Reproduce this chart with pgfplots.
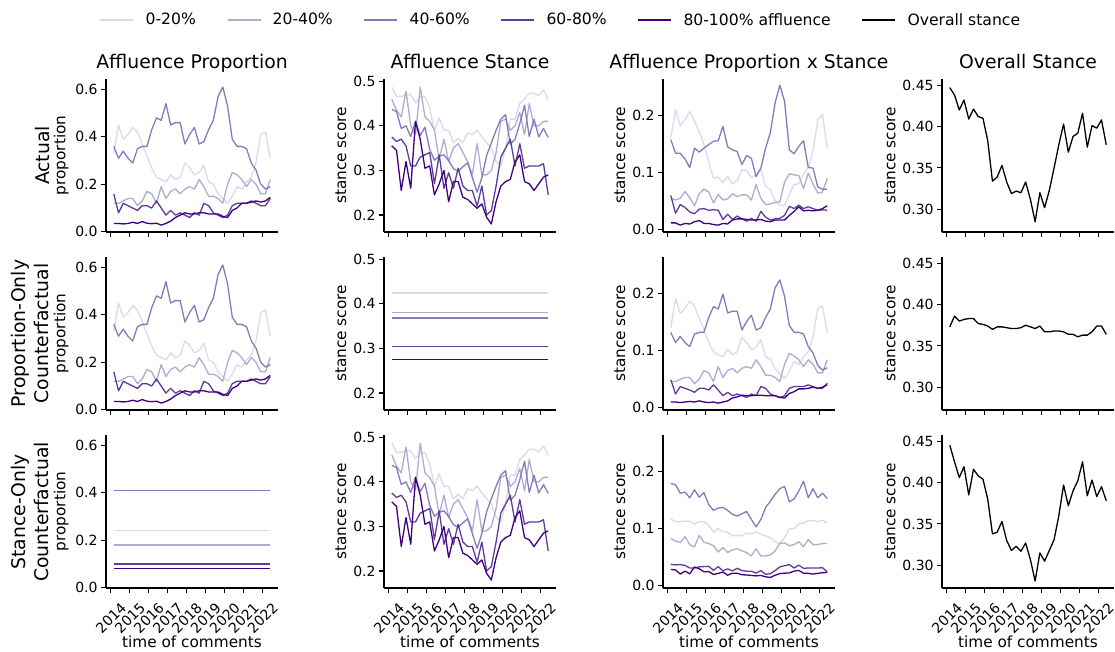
\documentclass[border=0pt]{standalone}
\usepackage{fontspec}
\setmainfont{DejaVu Sans}
\usepackage{pgfplots}
\usepackage{pgfplotstable}
\pgfplotsset{compat=1.18}

\definecolor{pa}{HTML}{DADAEB}
\definecolor{pb}{HTML}{ADACD2}
\definecolor{pc}{HTML}{807DBA}
\definecolor{pd}{HTML}{5F3C99}
\definecolor{pe}{HTML}{3F007D}

\newcommand\tickfont{\fontsize{14}{16}\selectfont}
\newcommand\labfont{\fontsize{15.3}{18}\selectfont}
\newcommand\bigfont{\fontsize{18.8}{22.6}\selectfont}

% proportion of comments per affluence quintile
\pgfplotstableread{
x p1 p2 p3 p4 p5
2014.15 0.33 0.12 0.36 0.16 0.035
2014.40 0.45 0.12 0.31 0.08 0.035
2014.65 0.39 0.13 0.34 0.12 0.033
2014.90 0.41 0.14 0.31 0.11 0.035
2015.15 0.44 0.14 0.29 0.10 0.040
2015.40 0.42 0.11 0.35 0.09 0.035
2015.65 0.37 0.13 0.36 0.11 0.043
2015.90 0.32 0.17 0.36 0.11 0.036
2016.15 0.27 0.16 0.43 0.10 0.034
2016.40 0.23 0.12 0.48 0.13 0.036
2016.65 0.22 0.19 0.47 0.10 0.028
2016.90 0.21 0.14 0.54 0.07 0.035
2017.15 0.24 0.17 0.45 0.09 0.045
2017.40 0.22 0.18 0.46 0.07 0.060
2017.65 0.23 0.16 0.46 0.08 0.070
2017.90 0.29 0.18 0.37 0.07 0.080
2018.15 0.27 0.19 0.41 0.06 0.075
2018.40 0.24 0.18 0.44 0.08 0.075
2018.65 0.25 0.22 0.37 0.07 0.080
2018.90 0.28 0.19 0.38 0.12 0.080
2019.15 0.21 0.15 0.43 0.11 0.075
2019.40 0.20 0.15 0.47 0.08 0.075
2019.65 0.16 0.14 0.57 0.07 0.075
2019.90 0.14 0.12 0.61 0.06 0.065
2020.15 0.12 0.20 0.53 0.07 0.060
2020.40 0.15 0.25 0.39 0.11 0.090
2020.65 0.19 0.24 0.36 0.12 0.100
2020.90 0.18 0.22 0.36 0.12 0.120
2021.15 0.21 0.19 0.35 0.12 0.120
2021.40 0.23 0.22 0.29 0.13 0.125
2021.65 0.29 0.20 0.26 0.12 0.130
2021.90 0.41 0.16 0.20 0.11 0.125
2022.15 0.42 0.16 0.18 0.11 0.130
2022.40 0.31 0.22 0.19 0.14 0.145
}\tprop

% stance per quintile
\pgfplotstableread{
x s1 s2 s3 s4 s5
2014.15 0.487 0.460 0.437 0.375 0.355
2014.40 0.466 0.435 0.432 0.365 0.345
2014.65 0.466 0.420 0.394 0.370 0.255
2014.90 0.470 0.478 0.400 0.355 0.320
2015.15 0.470 0.400 0.376 0.310 0.260
2015.40 0.452 0.380 0.410 0.310 0.410
2015.65 0.465 0.487 0.378 0.330 0.370
2015.90 0.466 0.420 0.397 0.335 0.305
2016.15 0.440 0.410 0.347 0.340 0.310
2016.40 0.390 0.390 0.323 0.270 0.245
2016.65 0.418 0.325 0.332 0.335 0.270
2016.90 0.390 0.370 0.335 0.260 0.300
2017.15 0.390 0.320 0.322 0.295 0.230
2017.40 0.362 0.350 0.304 0.260 0.275
2017.65 0.372 0.360 0.298 0.305 0.275
2017.90 0.362 0.340 0.308 0.265 0.240
2018.15 0.385 0.320 0.317 0.255 0.235
2018.40 0.380 0.290 0.284 0.255 0.225
2018.65 0.390 0.360 0.251 0.220 0.215
2018.90 0.375 0.290 0.284 0.265 0.225
2019.15 0.362 0.290 0.333 0.200 0.195
2019.40 0.350 0.300 0.362 0.210 0.180
2019.65 0.320 0.340 0.390 0.265 0.230
2019.90 0.310 0.410 0.415 0.330 0.265
2020.15 0.350 0.415 0.425 0.350 0.275
2020.40 0.415 0.390 0.359 0.370 0.280
2020.65 0.415 0.400 0.370 0.310 0.320
2020.90 0.450 0.430 0.405 0.360 0.335
2021.15 0.460 0.380 0.446 0.305 0.275
2021.40 0.473 0.450 0.376 0.310 0.270
2021.65 0.473 0.400 0.415 0.310 0.255
2021.90 0.468 0.400 0.375 0.310 0.270
2022.15 0.480 0.410 0.394 0.315 0.285
2022.40 0.460 0.410 0.374 0.245 0.290
}\tstance

% proportion x stance, actual
\pgfplotstableread{
x q1 q2 q3 q4 q5
2014.15 0.161 0.055 0.158 0.060 0.012
2014.40 0.210 0.052 0.134 0.029 0.012
2014.65 0.182 0.055 0.134 0.044 0.008
2014.90 0.193 0.067 0.124 0.039 0.011
2015.15 0.207 0.056 0.109 0.031 0.010
2015.40 0.190 0.042 0.143 0.028 0.014
2015.65 0.172 0.063 0.136 0.036 0.016
2015.90 0.149 0.071 0.143 0.037 0.011
2016.15 0.119 0.066 0.149 0.034 0.011
2016.40 0.090 0.047 0.155 0.035 0.009
2016.65 0.092 0.062 0.156 0.034 0.008
2016.90 0.082 0.052 0.181 0.018 0.011
2017.15 0.094 0.054 0.145 0.027 0.010
2017.40 0.080 0.063 0.140 0.018 0.017
2017.65 0.086 0.058 0.137 0.024 0.019
2017.90 0.105 0.061 0.114 0.019 0.019
2018.15 0.104 0.061 0.130 0.015 0.018
2018.40 0.091 0.052 0.125 0.020 0.017
2018.65 0.098 0.079 0.093 0.015 0.017
2018.90 0.105 0.055 0.108 0.032 0.018
2019.15 0.076 0.044 0.143 0.022 0.015
2019.40 0.070 0.045 0.170 0.017 0.014
2019.65 0.051 0.048 0.222 0.019 0.017
2019.90 0.043 0.049 0.253 0.020 0.017
2020.15 0.042 0.083 0.225 0.025 0.017
2020.40 0.062 0.098 0.140 0.041 0.025
2020.65 0.079 0.096 0.133 0.037 0.032
2020.90 0.081 0.095 0.146 0.043 0.040
2021.15 0.097 0.072 0.156 0.037 0.033
2021.40 0.109 0.099 0.109 0.040 0.034
2021.65 0.137 0.080 0.108 0.037 0.033
2021.90 0.192 0.064 0.075 0.034 0.034
2022.15 0.202 0.066 0.071 0.035 0.037
2022.40 0.143 0.090 0.071 0.034 0.042
}\tqa

% proportion x stance, proportion-only counterfactual
\pgfplotstableread{
x r1 r2 r3 r4 r5
2014.15 0.140 0.046 0.132 0.049 0.010
2014.40 0.191 0.046 0.114 0.024 0.010
2014.65 0.165 0.050 0.125 0.037 0.009
2014.90 0.174 0.053 0.114 0.034 0.010
2015.15 0.187 0.053 0.107 0.031 0.011
2015.40 0.178 0.042 0.129 0.027 0.010
2015.65 0.157 0.050 0.132 0.034 0.012
2015.90 0.136 0.065 0.132 0.034 0.010
2016.15 0.114 0.061 0.158 0.031 0.009
2016.40 0.098 0.046 0.177 0.040 0.010
2016.65 0.093 0.072 0.173 0.031 0.008
2016.90 0.089 0.053 0.199 0.021 0.010
2017.15 0.102 0.065 0.166 0.027 0.012
2017.40 0.093 0.069 0.169 0.021 0.017
2017.65 0.098 0.061 0.169 0.024 0.019
2017.90 0.123 0.069 0.136 0.021 0.022
2018.15 0.114 0.072 0.151 0.018 0.021
2018.40 0.102 0.069 0.162 0.024 0.021
2018.65 0.106 0.084 0.136 0.021 0.022
2018.90 0.119 0.072 0.140 0.037 0.022
2019.15 0.089 0.057 0.158 0.034 0.021
2019.40 0.085 0.057 0.173 0.024 0.021
2019.65 0.068 0.053 0.210 0.021 0.021
2019.90 0.059 0.046 0.224 0.018 0.018
2020.15 0.051 0.076 0.195 0.021 0.017
2020.40 0.064 0.095 0.144 0.034 0.025
2020.65 0.081 0.091 0.132 0.037 0.028
2020.90 0.076 0.084 0.132 0.037 0.033
2021.15 0.089 0.072 0.129 0.037 0.033
2021.40 0.098 0.084 0.107 0.040 0.034
2021.65 0.123 0.076 0.096 0.037 0.036
2021.90 0.174 0.061 0.074 0.034 0.034
2022.15 0.178 0.061 0.066 0.034 0.036
2022.40 0.131 0.084 0.070 0.043 0.040
}\tqp

% proportion x stance, stance-only counterfactual
\pgfplotstableread{
x t1 t2 t3 t4 t5
2014.15 0.117 0.083 0.179 0.0375 0.0284
2014.40 0.112 0.078 0.177 0.0365 0.0276
2014.65 0.112 0.076 0.162 0.0370 0.0204
2014.90 0.113 0.086 0.164 0.0355 0.0256
2015.15 0.113 0.072 0.154 0.0310 0.0208
2015.40 0.108 0.068 0.168 0.0310 0.0328
2015.65 0.112 0.088 0.155 0.0330 0.0296
2015.90 0.112 0.076 0.163 0.0335 0.0244
2016.15 0.106 0.074 0.142 0.0340 0.0248
2016.40 0.094 0.070 0.132 0.0270 0.0196
2016.65 0.100 0.059 0.136 0.0335 0.0216
2016.90 0.094 0.067 0.137 0.0260 0.0240
2017.15 0.094 0.058 0.132 0.0295 0.0184
2017.40 0.087 0.063 0.125 0.0260 0.0220
2017.65 0.089 0.065 0.122 0.0305 0.0220
2017.90 0.087 0.061 0.126 0.0265 0.0192
2018.15 0.092 0.058 0.130 0.0255 0.0188
2018.40 0.091 0.052 0.116 0.0255 0.0180
2018.65 0.094 0.065 0.103 0.0220 0.0172
2018.90 0.090 0.052 0.116 0.0265 0.0180
2019.15 0.087 0.052 0.137 0.0200 0.0156
2019.40 0.084 0.054 0.148 0.0210 0.0144
2019.65 0.077 0.061 0.160 0.0265 0.0184
2019.90 0.074 0.074 0.170 0.0330 0.0212
2020.15 0.084 0.075 0.174 0.0350 0.0220
2020.40 0.100 0.070 0.147 0.0370 0.0224
2020.65 0.100 0.072 0.152 0.0310 0.0256
2020.90 0.108 0.077 0.166 0.0360 0.0268
2021.15 0.110 0.068 0.183 0.0305 0.0220
2021.40 0.114 0.081 0.154 0.0310 0.0216
2021.65 0.114 0.072 0.170 0.0310 0.0204
2021.90 0.112 0.072 0.154 0.0310 0.0216
2022.15 0.115 0.074 0.162 0.0315 0.0228
2022.40 0.110 0.074 0.153 0.0245 0.0232
}\tqs

% overall stance: actual, proportion-only, stance-only
\pgfplotstableread{
x a b c
2014.15 0.447 0.373 0.445
2014.40 0.438 0.386 0.425
2014.65 0.420 0.380 0.406
2014.90 0.432 0.382 0.419
2015.15 0.409 0.383 0.385
2015.40 0.421 0.383 0.416
2015.65 0.412 0.377 0.408
2015.90 0.410 0.376 0.404
2016.15 0.383 0.374 0.380
2016.40 0.334 0.370 0.338
2016.65 0.339 0.373 0.340
2016.90 0.353 0.373 0.353
2017.15 0.333 0.372 0.330
2017.40 0.319 0.371 0.318
2017.65 0.322 0.371 0.323
2017.90 0.320 0.372 0.317
2018.15 0.333 0.375 0.327
2018.40 0.312 0.373 0.307
2018.65 0.285 0.371 0.281
2018.90 0.320 0.374 0.315
2019.15 0.302 0.367 0.305
2019.40 0.323 0.367 0.318
2019.65 0.350 0.368 0.331
2019.90 0.378 0.368 0.360
2020.15 0.403 0.367 0.397
2020.40 0.369 0.364 0.372
2020.65 0.388 0.364 0.390
2020.90 0.392 0.361 0.402
2021.15 0.416 0.363 0.425
2021.40 0.375 0.363 0.384
2021.65 0.401 0.367 0.403
2021.90 0.398 0.374 0.383
2022.15 0.408 0.374 0.395
2022.40 0.378 0.364 0.378
}\tov

\pgfplotsset{
  panel/.style={
    scale only axis, width=172pt, height=153pt, anchor=south west,
    xmin=2013.74, xmax=2022.81,
    axis x line*=bottom, axis y line*=left,
    axis line style={line width=1.1pt, -},
    tick align=outside, major tick length=4.9pt,
    every tick/.style={black, line width=1.1pt},
    xtick={2014,...,2022}, xticklabels={},
    every tick label/.append style={font=\tickfont},
    every axis label/.append style={font=\labfont},
    yticklabel style={font=\tickfont, /pgf/number format/.cd, fixed, fixed zerofill, precision=1, assume math mode=true},
    ylabel style={font=\labfont},
  },
  bottomrow/.style={
    xticklabels={2014,2015,2016,2017,2018,2019,2020,2021,2022},
    xticklabel style={font=\tickfont, yshift=-25pt, rotate=45, anchor=center},
    xlabel={time of comments},
    xlabel style={font=\labfont, at={(axis description cs:0.5,0)}, anchor=base, yshift=-60pt},
  },
  colA/.style={ymin=-0.001, ymax=0.644, ytick={0,0.2,0.4,0.6}, ylabel={proportion}},
  colB/.style={ymin=0.162, ymax=0.505, ytick={0.2,0.3,0.4,0.5}, ylabel={stance score}},
  colC/.style={ymin=-0.004, ymax=0.264, ytick={0,0.1,0.2}, ylabel={stance score}},
  colD/.style={ymin=0.2726, ymax=0.4574, ytick={0.30,0.35,0.40,0.45}, ylabel={stance score},
    yticklabel style={/pgf/number format/precision=2}},
  toptitle/.style={title={#1}, title style={font=\bigfont,
    at={(axis description cs:0.5,1)}, anchor=base, yshift=4pt}},
  g1/.style={pa, line width=1.3pt, line join=round},
  g2/.style={pb, line width=1.3pt, line join=round},
  g3/.style={pc, line width=1.3pt, line join=round},
  g4/.style={pd, line width=1.3pt, line join=round},
  g5/.style={pe, line width=1.3pt, line join=round},
  gk/.style={black, line width=1.3pt, line join=round},
}

\begin{document}
\begin{tikzpicture}
\path[use as bounding box] (0,0) rectangle (1115pt,652pt);

% ---------- row 1: actual ----------
\begin{axis}[panel, colA, at={(106pt,420pt)}, toptitle={Affluence Proportion},
  legend columns=6,
  legend image code/.code={\draw[#1] (0pt,0pt) -- (33pt,0pt);},
  legend style={at={(-0.037,1.386)}, anchor=west, draw=none, fill=none, inner sep=0pt,
    font=\fontsize{15.6}{18}\selectfont, nodes={inner sep=0pt},
    /tikz/every odd column/.append style={column sep=11.5pt},
    /tikz/every even column/.append style={column sep=31pt}}]
\addplot[g1] table[x=x, y=p1] {\tprop}; \addlegendentry{0-20\%}
\addplot[g2] table[x=x, y=p2] {\tprop}; \addlegendentry{20-40\%}
\addplot[g3] table[x=x, y=p3] {\tprop}; \addlegendentry{40-60\%}
\addplot[g4] table[x=x, y=p4] {\tprop}; \addlegendentry{60-80\%}
\addplot[g5] table[x=x, y=p5] {\tprop}; \addlegendentry{80-100\% affluence}
\addlegendimage{gk} \addlegendentry{Overall stance}
\end{axis}

\begin{axis}[panel, colB, at={(384pt,420pt)}, toptitle={Affluence Stance}]
\addplot[g1] table[x=x, y=s1] {\tstance};
\addplot[g2] table[x=x, y=s2] {\tstance};
\addplot[g3] table[x=x, y=s3] {\tstance};
\addplot[g4] table[x=x, y=s4] {\tstance};
\addplot[g5] table[x=x, y=s5] {\tstance};
\end{axis}

\begin{axis}[panel, colC, at={(663pt,420pt)}, toptitle={Affluence Proportion x Stance}]
\addplot[g1] table[x=x, y=q1] {\tqa};
\addplot[g2] table[x=x, y=q2] {\tqa};
\addplot[g3] table[x=x, y=q3] {\tqa};
\addplot[g4] table[x=x, y=q4] {\tqa};
\addplot[g5] table[x=x, y=q5] {\tqa};
\end{axis}

\begin{axis}[panel, colD, at={(942pt,420pt)}, toptitle={Overall Stance}]
\addplot[gk] table[x=x, y=a] {\tov};
\end{axis}

% ---------- row 2: proportion-only counterfactual ----------
\begin{axis}[panel, colA, at={(106pt,242pt)}]
\addplot[g1] table[x=x, y=p1] {\tprop};
\addplot[g2] table[x=x, y=p2] {\tprop};
\addplot[g3] table[x=x, y=p3] {\tprop};
\addplot[g4] table[x=x, y=p4] {\tprop};
\addplot[g5] table[x=x, y=p5] {\tprop};
\end{axis}

\begin{axis}[panel, colB, at={(384pt,242pt)}]
\addplot[g1] coordinates {(2014.15,0.424) (2022.40,0.424)};
\addplot[g2] coordinates {(2014.15,0.381) (2022.40,0.381)};
\addplot[g3] coordinates {(2014.15,0.368) (2022.40,0.368)};
\addplot[g4] coordinates {(2014.15,0.305) (2022.40,0.305)};
\addplot[g5] coordinates {(2014.15,0.275) (2022.40,0.275)};
\end{axis}

\begin{axis}[panel, colC, at={(663pt,242pt)}]
\addplot[g1] table[x=x, y=r1] {\tqp};
\addplot[g2] table[x=x, y=r2] {\tqp};
\addplot[g3] table[x=x, y=r3] {\tqp};
\addplot[g4] table[x=x, y=r4] {\tqp};
\addplot[g5] table[x=x, y=r5] {\tqp};
\end{axis}

\begin{axis}[panel, colD, at={(942pt,242pt)}]
\addplot[gk] table[x=x, y=b] {\tov};
\end{axis}

% ---------- row 3: stance-only counterfactual ----------
\begin{axis}[panel, colA, bottomrow, at={(106pt,64pt)}]
\addplot[g1] coordinates {(2014.15,0.24) (2022.40,0.24)};
\addplot[g2] coordinates {(2014.15,0.18) (2022.40,0.18)};
\addplot[g3] coordinates {(2014.15,0.41) (2022.40,0.41)};
\addplot[g4] coordinates {(2014.15,0.10) (2022.40,0.10)};
\addplot[g5] coordinates {(2014.15,0.08) (2022.40,0.08)};
\end{axis}

\begin{axis}[panel, colB, bottomrow, at={(384pt,64pt)}]
\addplot[g1] table[x=x, y=s1] {\tstance};
\addplot[g2] table[x=x, y=s2] {\tstance};
\addplot[g3] table[x=x, y=s3] {\tstance};
\addplot[g4] table[x=x, y=s4] {\tstance};
\addplot[g5] table[x=x, y=s5] {\tstance};
\end{axis}

\begin{axis}[panel, colC, bottomrow, at={(663pt,64pt)}]
\addplot[g1] table[x=x, y=t1] {\tqs};
\addplot[g2] table[x=x, y=t2] {\tqs};
\addplot[g3] table[x=x, y=t3] {\tqs};
\addplot[g4] table[x=x, y=t4] {\tqs};
\addplot[g5] table[x=x, y=t5] {\tqs};
\end{axis}

\begin{axis}[panel, colD, bottomrow, at={(942pt,64pt)}]
\addplot[gk] table[x=x, y=c] {\tov};
\end{axis}

% row names
\node[rotate=90, font=\bigfont] at (42pt,496.5pt) {Actual};
\node[rotate=90, align=center, font=\bigfont] at (30pt,318.5pt) {Proportion-Only\\Counterfactual};
\node[rotate=90, align=center, font=\bigfont] at (30pt,140pt) {Stance-Only\\Counterfactual};
\end{tikzpicture}
\end{document}
